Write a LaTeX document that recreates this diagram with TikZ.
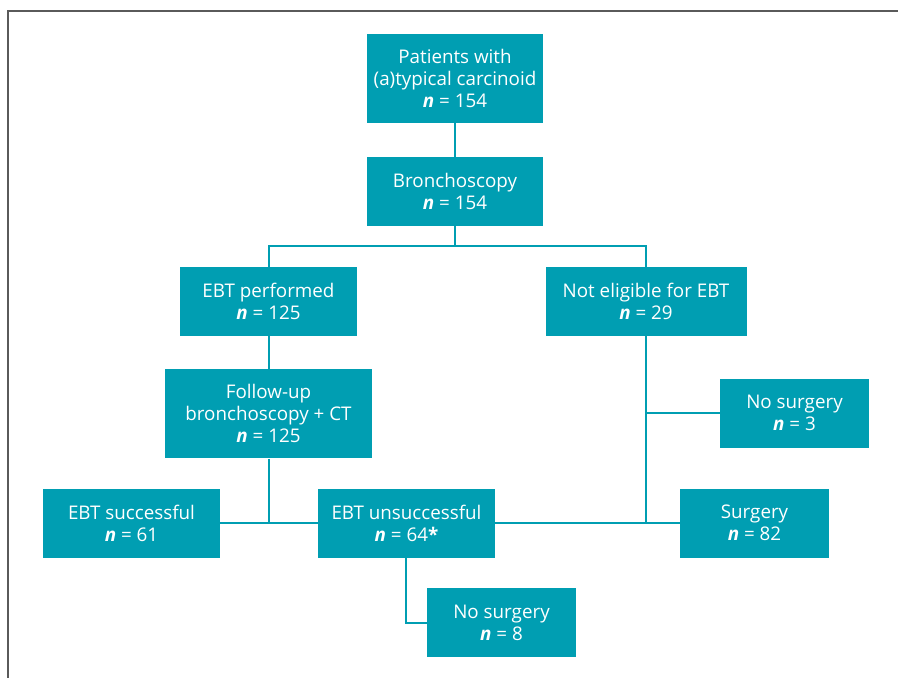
\documentclass[tikz,border=0pt]{standalone}
\usepackage{fontspec}
\setmainfont{Open Sans}
\definecolor{teal1}{RGB}{0,158,178}
\definecolor{frame1}{RGB}{90,90,90}
\tikzset{
  box/.style={fill=teal1, text=white, inner sep=0pt, align=center,
    font=\fontsize{18.8}{22}\selectfont},
  conn/.style={draw=teal1, line width=2pt},
}
\newcommand{\nn}{\textbf{\textit{n}}}
\begin{document}
\begin{tikzpicture}[x=1pt,y=-1pt]
\useasboundingbox (0,0) rectangle (898,678);
\draw[frame1, line width=1.8pt] (8,678) -- (8,11) -- (898,11);
\node[box, minimum width=176pt, minimum height=89pt] (pat) at (455,78.5) {Patients with\\(a)typical carcinoid\\\nn{} = 154};
\node[box, minimum width=176pt, minimum height=68.5pt] (bro) at (455,191.3) {Bronchoscopy\\\nn{} = 154};
\node[box, minimum width=177pt, minimum height=68.7pt] (ebt) at (268.5,301.3) {EBT performed\\\nn{} = 125};
\node[box, minimum width=201pt, minimum height=68.7pt] (ne) at (646,301.3) {Not eligible for EBT\\\nn{} = 29};
\node[box, minimum width=207pt, minimum height=89.3pt] (fu) at (268.5,413.7) {Follow-up\\bronchoscopy + CT\\\nn{} = 125};
\node[box, minimum width=149pt, minimum height=68.7pt] (ns1) at (794.5,413.3) {No surgery\\\nn{} = 3};
\node[box, minimum width=177pt, minimum height=68.7pt] (succ) at (131.5,523.2) {EBT successful\\\nn{} = 61};
\node[box, minimum width=177pt, minimum height=68.7pt] (unsucc) at (406.5,523.2) {EBT unsuccessful\\\nn{} = 64\textbf{*}};
\node[box, minimum width=149pt, minimum height=68.7pt] (surg) at (754.5,523.2) {Surgery\\\nn{} = 82};
\node[box, minimum width=149pt, minimum height=68.4pt] (ns2) at (501.5,622.5) {No surgery\\\nn{} = 8};
\coordinate (sp) at (455,246);
\draw[conn] (pat) -- (bro);
\draw[conn] (bro.south) -- (sp);
\draw[conn] (ebt.north) -- (ebt.north |- sp) -- (ne.north |- sp) -- (ne.north);
\draw[conn] (ebt) -- (fu);
\draw[conn] (fu.south) -- (fu.south |- succ.east);
\draw[conn] (succ) -- (unsucc);
\draw[conn] (unsucc) -- (surg);
\draw[conn] (ne.south) -- (ne.south |- surg.west);
\draw[conn] (ne.south |- ns1.west) -- (ns1.west);
\draw[conn] (unsucc.south -| 406,0) |- (ns2.west);
\end{tikzpicture}
\end{document}
